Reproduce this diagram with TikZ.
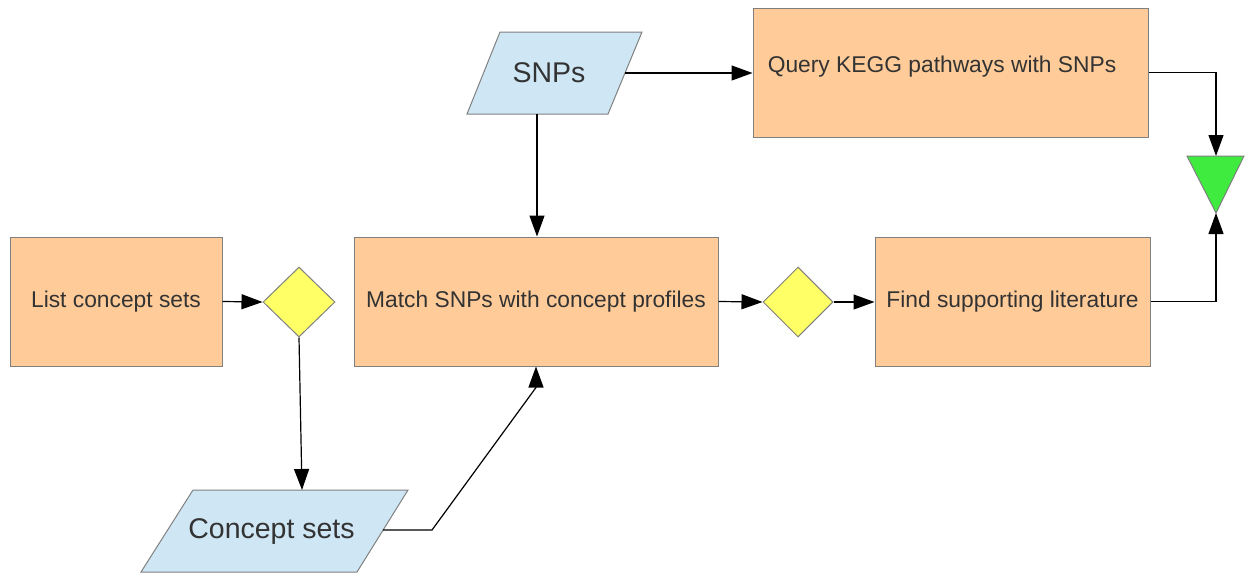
\documentclass[tikz,border=0pt]{standalone}
\usepackage{fontspec}
\setmainfont{Liberation Sans}
\usetikzlibrary{shapes.geometric,arrows.meta}
\definecolor{peach}{HTML}{FFCC99}
\definecolor{paleblue}{HTML}{CFE7F5}
\definecolor{dyellow}{HTML}{FFFF66}
\definecolor{dgreen}{HTML}{3EEB3E}
\definecolor{bordergray}{HTML}{808080}
\definecolor{txtgray}{HTML}{333333}
\tikzset{
  procbox/.style={draw=bordergray, line width=1pt, fill=peach, inner sep=0pt,
    minimum height=129pt, text=txtgray, font=\fontsize{22.8}{27}\selectfont},
  datashape/.style={draw=bordergray, line width=1pt, fill=paleblue},
  datatext/.style={text=txtgray, font=\fontsize{28.5}{33}\selectfont},
  decision/.style={diamond, draw=bordergray, line width=1pt, fill=dyellow, inner sep=0pt,
    minimum width=72pt, minimum height=70pt},
  arr/.style={draw=black, line width=1.2pt, -{Triangle[length=21pt,width=15pt]}},
}
\begin{document}
\begin{tikzpicture}[x=1pt,y=-1pt]
\useasboundingbox (0,0) rectangle (1245,574);
% process boxes
\node[procbox, minimum width=212pt] (list) at (116,301.5) {List concept sets};
\node[procbox, minimum width=364pt] (match) at (536,301.5) {Match SNPs with concept profiles};
\node[procbox, minimum width=275pt] (find) at (1012.5,301.5) {Find supporting literature};
\node[procbox, minimum width=395pt] (query) at (950.5,72.5) {};
\node[text=txtgray, font=\fontsize{22.8}{27}\selectfont, anchor=center] (querytext) at (942,67) {Query KEGG pathways with SNPs};
% data
\draw[datashape] (467,114) -- (500,32) -- (642,32) -- (608,114) -- cycle;
\node[datatext] (snp) at (549,73) {SNPs};
\coordinate (snpr) at (625,73);
\coordinate (snpb) at (537,114);
\draw[datashape] (141,572) -- (193,490) -- (408,490) -- (357,572) -- cycle;
\node[datatext] (cs) at (271.5,531) {Concept sets};
\coordinate (csr) at (383,530);
\coordinate (cst) at (302,490);
% decisions
\node[decision] (d1) at (299,302) {};
\node[decision, minimum width=70pt] (d2) at (798,302) {};
% merge triangle
\coordinate (tritop) at (1216,156);
\coordinate (tritip) at (1216,213);
\draw[draw=bordergray, line width=1pt, fill=dgreen] (1187,156) -- (1244,156) -- (tritip) -- cycle;
% connectors
\draw[arr] (snpr) -- (snpr -| query.west);
\draw[arr] (snpb) -- (snpb |- match.north);
\draw[arr] (query.east) -| (tritop);
\draw[arr] (find.east) -| (tritip);
\draw[arr] (list.east) -- (d1.west);
\draw[arr] (d1.south) -- (cst);
\draw[arr] (match.east) -- (d2.west);
\draw[arr] (d2.east) -- (d2.east -| find.west);
\draw[arr] (csr) -- ++(49,0) -- ([yshift=-21pt]match.south) -- (match.south);
\end{tikzpicture}
\end{document}
